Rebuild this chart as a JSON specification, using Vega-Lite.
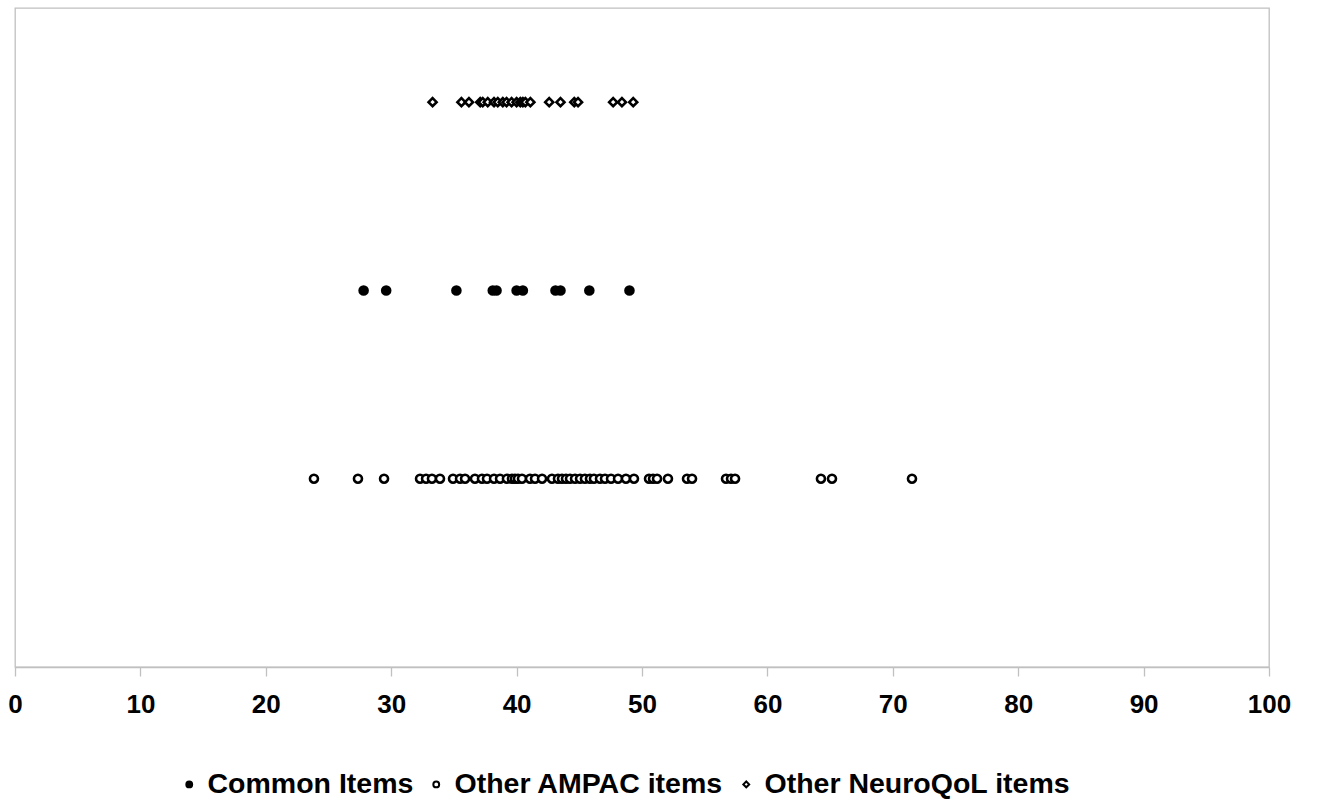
{
  "$schema": "https://vega.github.io/schema/vega-lite/v6.json",
  "autosize": "none",
  "width": 1254,
  "height": 659,
  "padding": {"left": 15, "top": 8, "right": 49, "bottom": 137},
  "background": "white",
  "config": {
    "view": {"stroke": "#c0c0c0", "strokeWidth": 1.3},
    "font": "Liberation Sans"
  },
  "data": {
    "values": [
      {"v": 27.8, "row": 2, "g": "Common Items"},
      {"v": 29.6, "row": 2, "g": "Common Items"},
      {"v": 35.2, "row": 2, "g": "Common Items"},
      {"v": 38.1, "row": 2, "g": "Common Items"},
      {"v": 38.4, "row": 2, "g": "Common Items"},
      {"v": 40.0, "row": 2, "g": "Common Items"},
      {"v": 40.5, "row": 2, "g": "Common Items"},
      {"v": 43.1, "row": 2, "g": "Common Items"},
      {"v": 43.5, "row": 2, "g": "Common Items"},
      {"v": 45.8, "row": 2, "g": "Common Items"},
      {"v": 49.0, "row": 2, "g": "Common Items"},
      {"v": 23.84, "row": 1, "g": "Other AMPAC items"},
      {"v": 27.35, "row": 1, "g": "Other AMPAC items"},
      {"v": 29.43, "row": 1, "g": "Other AMPAC items"},
      {"v": 32.3, "row": 1, "g": "Other AMPAC items"},
      {"v": 32.78, "row": 1, "g": "Other AMPAC items"},
      {"v": 33.25, "row": 1, "g": "Other AMPAC items"},
      {"v": 33.89, "row": 1, "g": "Other AMPAC items"},
      {"v": 34.93, "row": 1, "g": "Other AMPAC items"},
      {"v": 35.49, "row": 1, "g": "Other AMPAC items"},
      {"v": 35.89, "row": 1, "g": "Other AMPAC items"},
      {"v": 36.68, "row": 1, "g": "Other AMPAC items"},
      {"v": 37.24, "row": 1, "g": "Other AMPAC items"},
      {"v": 37.64, "row": 1, "g": "Other AMPAC items"},
      {"v": 38.2, "row": 1, "g": "Other AMPAC items"},
      {"v": 38.68, "row": 1, "g": "Other AMPAC items"},
      {"v": 39.23, "row": 1, "g": "Other AMPAC items"},
      {"v": 39.63, "row": 1, "g": "Other AMPAC items"},
      {"v": 39.87, "row": 1, "g": "Other AMPAC items"},
      {"v": 40.11, "row": 1, "g": "Other AMPAC items"},
      {"v": 40.43, "row": 1, "g": "Other AMPAC items"},
      {"v": 41.07, "row": 1, "g": "Other AMPAC items"},
      {"v": 41.47, "row": 1, "g": "Other AMPAC items"},
      {"v": 42.03, "row": 1, "g": "Other AMPAC items"},
      {"v": 42.82, "row": 1, "g": "Other AMPAC items"},
      {"v": 43.3, "row": 1, "g": "Other AMPAC items"},
      {"v": 43.62, "row": 1, "g": "Other AMPAC items"},
      {"v": 43.94, "row": 1, "g": "Other AMPAC items"},
      {"v": 44.26, "row": 1, "g": "Other AMPAC items"},
      {"v": 44.66, "row": 1, "g": "Other AMPAC items"},
      {"v": 45.06, "row": 1, "g": "Other AMPAC items"},
      {"v": 45.45, "row": 1, "g": "Other AMPAC items"},
      {"v": 45.85, "row": 1, "g": "Other AMPAC items"},
      {"v": 46.17, "row": 1, "g": "Other AMPAC items"},
      {"v": 46.65, "row": 1, "g": "Other AMPAC items"},
      {"v": 47.05, "row": 1, "g": "Other AMPAC items"},
      {"v": 47.53, "row": 1, "g": "Other AMPAC items"},
      {"v": 48.09, "row": 1, "g": "Other AMPAC items"},
      {"v": 48.72, "row": 1, "g": "Other AMPAC items"},
      {"v": 49.36, "row": 1, "g": "Other AMPAC items"},
      {"v": 50.56, "row": 1, "g": "Other AMPAC items"},
      {"v": 50.88, "row": 1, "g": "Other AMPAC items"},
      {"v": 51.2, "row": 1, "g": "Other AMPAC items"},
      {"v": 52.07, "row": 1, "g": "Other AMPAC items"},
      {"v": 53.59, "row": 1, "g": "Other AMPAC items"},
      {"v": 53.99, "row": 1, "g": "Other AMPAC items"},
      {"v": 56.7, "row": 1, "g": "Other AMPAC items"},
      {"v": 57.1, "row": 1, "g": "Other AMPAC items"},
      {"v": 57.42, "row": 1, "g": "Other AMPAC items"},
      {"v": 64.27, "row": 1, "g": "Other AMPAC items"},
      {"v": 65.15, "row": 1, "g": "Other AMPAC items"},
      {"v": 71.53, "row": 1, "g": "Other AMPAC items"},
      {"v": 33.3, "row": 3, "g": "Other NeuroQoL items"},
      {"v": 35.6, "row": 3, "g": "Other NeuroQoL items"},
      {"v": 36.2, "row": 3, "g": "Other NeuroQoL items"},
      {"v": 37.1, "row": 3, "g": "Other NeuroQoL items"},
      {"v": 37.3, "row": 3, "g": "Other NeuroQoL items"},
      {"v": 37.7, "row": 3, "g": "Other NeuroQoL items"},
      {"v": 38.2, "row": 3, "g": "Other NeuroQoL items"},
      {"v": 38.5, "row": 3, "g": "Other NeuroQoL items"},
      {"v": 38.9, "row": 3, "g": "Other NeuroQoL items"},
      {"v": 39.2, "row": 3, "g": "Other NeuroQoL items"},
      {"v": 39.6, "row": 3, "g": "Other NeuroQoL items"},
      {"v": 40.0, "row": 3, "g": "Other NeuroQoL items"},
      {"v": 40.3, "row": 3, "g": "Other NeuroQoL items"},
      {"v": 40.5, "row": 3, "g": "Other NeuroQoL items"},
      {"v": 40.7, "row": 3, "g": "Other NeuroQoL items"},
      {"v": 41.1, "row": 3, "g": "Other NeuroQoL items"},
      {"v": 42.6, "row": 3, "g": "Other NeuroQoL items"},
      {"v": 43.5, "row": 3, "g": "Other NeuroQoL items"},
      {"v": 44.6, "row": 3, "g": "Other NeuroQoL items"},
      {"v": 44.9, "row": 3, "g": "Other NeuroQoL items"},
      {"v": 47.7, "row": 3, "g": "Other NeuroQoL items"},
      {"v": 48.4, "row": 3, "g": "Other NeuroQoL items"},
      {"v": 49.3, "row": 3, "g": "Other NeuroQoL items"}
    ]
  },
  "mark": {"type": "point", "filled": true, "strokeWidth": 2.6, "size": 64, "opacity": 1},
  "encoding": {
    "x": {
      "field": "v", "type": "quantitative",
      "scale": {"domain": [0, 100], "nice": false},
      "axis": {
        "title": null, "values": [0,10,20,30,40,50,60,70,80,90,100],
        "grid": false, "domainColor": "#c0c0c0", "domainWidth": 1.3,
        "tickColor": "#c0c0c0", "tickSize": 9, "tickWidth": 1.3,
        "labelFont": "Liberation Sans", "labelFontWeight": "bold", "labelFontSize": 26,
        "labelColor": "black", "labelPadding": 15, "labelFlush": false
      }
    },
    "y": {
      "field": "row", "type": "quantitative",
      "scale": {"domain": [0, 3.5], "nice": false},
      "axis": null
    },
    "shape": {
      "field": "g", "type": "nominal", "title": null,
      "scale": {"domain": ["Common Items", "Other AMPAC items", "Other NeuroQoL items"], "range": ["circle", "circle", "diamond"]},
      "legend": {
        "orient": "none", "direction": "horizontal", "legendX": 160, "legendY": 762,
        "labelFont": "Liberation Sans", "labelFontWeight": "bold", "labelFontSize": 28.5,
        "labelColor": "black", "symbolSize": 34, "symbolStrokeWidth": 2,
        "columnPadding": 8, "labelOffset": 4, "labelLimit": 500, "title": null
      }
    },
    "fill": {
      "field": "g", "type": "nominal", "title": null,
      "scale": {"domain": ["Common Items", "Other AMPAC items", "Other NeuroQoL items"], "range": ["black", "white", "white"]},
      "legend": {
        "orient": "none", "direction": "horizontal", "legendX": 160, "legendY": 762,
        "labelFont": "Liberation Sans", "labelFontWeight": "bold", "labelFontSize": 28.5,
        "labelColor": "black", "symbolSize": 34, "symbolStrokeWidth": 2,
        "columnPadding": 8, "labelOffset": 4, "labelLimit": 500, "title": null
      }
    },
    "stroke": {
      "field": "g", "type": "nominal", "title": null,
      "scale": {"domain": ["Common Items", "Other AMPAC items", "Other NeuroQoL items"], "range": ["black", "black", "black"]},
      "legend": {
        "orient": "none", "direction": "horizontal", "legendX": 160, "legendY": 762,
        "labelFont": "Liberation Sans", "labelFontWeight": "bold", "labelFontSize": 28.5,
        "labelColor": "black", "symbolSize": 34, "symbolStrokeWidth": 2,
        "columnPadding": 8, "labelOffset": 4, "labelLimit": 500, "title": null
      }
    }
  }
}
